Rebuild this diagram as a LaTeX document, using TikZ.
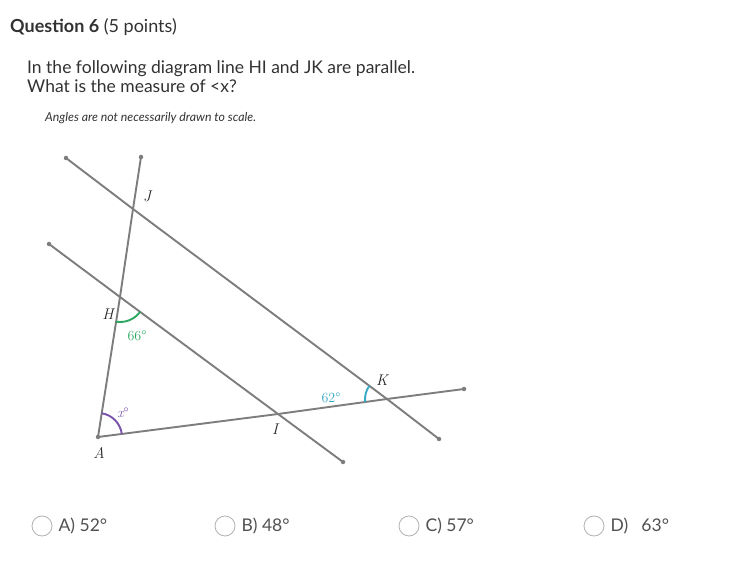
\documentclass[tikz,border=0pt]{standalone}
\usepackage{fontspec}
\setmainfont{Lato}
\newfontfamily\geofont{Latin Modern Roman}
\usepackage{xcolor}
\usepackage{tikz}
\usetikzlibrary{angles, positioning}

\definecolor{linegray}{RGB}{125,125,125}
\definecolor{textgray}{RGB}{50,50,50}
\definecolor{anglegreen}{RGB}{46,168,96}
\definecolor{anglecyan}{RGB}{52,170,196}
\definecolor{anglepurple}{RGB}{122,82,170}

\tikzset{
  geoline/.style={draw=linegray, line width=1.9pt},
  enddot/.style={circle, fill=linegray, inner sep=0pt, minimum size=4.5pt},
  ptlabel/.style={font=\geofont\itshape\fontsize{15.5}{15.5}\selectfont, text=black!85},
  anglabel/.style={font=\geofont\fontsize{14}{14}\selectfont},
  choice/.style={circle, draw=black!30, line width=0.8pt, minimum size=20pt, inner sep=0pt},
  choicetext/.style={font=\fontsize{17.5}{17.5}\selectfont, text=textgray!85, inner sep=0pt}
}

\begin{document}
\begin{tikzpicture}[x=1pt,y=-1pt]
    \useasboundingbox (0,0) rectangle (729,561);

    % Intestazione
    \node[anchor=base west, inner sep=0pt, font=\fontsize{18}{18}\selectfont, text=textgray] (qtitle) at (10,33) {\textbf{Question 6} (5 points)};
    \node[anchor=base west, inner sep=0pt, font=\fontsize{17.5}{17.5}\selectfont, text=textgray] (qline1) at (27,74) {In the following diagram line HI and JK are parallel.};
    \node[anchor=base west, inner sep=0pt, font=\fontsize{17.5}{17.5}\selectfont, text=textgray] (qline2) at (27,93) {What is the measure of <x?};
    \node[anchor=base west, inner sep=0pt, font=\itshape\fontsize{12.3}{12.3}\selectfont, text=textgray] (qnote) at (45,122) {Angles are not necessarily drawn to scale.};

    % Punti della figura
    \coordinate (Ttop) at (141,157);
    \coordinate (Jend) at (66,158);
    \coordinate (Hend) at (49,244);
    \coordinate (J) at (133,209);
    \coordinate (H) at (120,297);
    \coordinate (A) at (98,437);
    \coordinate (I) at (278,414);
    \coordinate (K) at (387,399);
    \coordinate (Iend) at (343,462);
    \coordinate (Kend) at (439,439);
    \coordinate (Aend) at (464,389);

    % Rette
    \draw[geoline] (Ttop) -- (J) -- (H) -- (A);
    \draw[geoline] (Jend) -- (J) -- (K) -- (Kend);
    \draw[geoline] (Hend) -- (H) -- (I) -- (Iend);
    \draw[geoline] (A) -- (I) -- (K) -- (Aend);

    % Estremi
    \foreach \p in {Ttop, Jend, Hend, A, Iend, Kend, Aend}
        \node[enddot] at (\p) {};

    % Angoli
    \pic[draw=anglegreen, line width=1.9pt, angle radius=25pt] {angle=A--H--I};
    \pic[draw=anglepurple, line width=1.9pt, angle radius=24pt] {angle=K--A--H};
    \pic[draw=anglecyan, line width=1.9pt, angle radius=22pt] {angle=J--K--A};

    % Etichette
    \node[ptlabel] (lJ) at (147,196) {J};
    \node[ptlabel] (lH) at (108,314) {H};
    \node[ptlabel] (lA) at (99,453) {A};
    \node[ptlabel] (lI) at (275,429) {I};
    \node[ptlabel] (lK) at (382,380) {K};
    \node[anglabel, text=anglegreen] (l66) at (137,336) {66°};
    \node[anglabel, text=anglecyan] (l62) at (331,398) {62°};
    \node[anglabel, text=anglepurple] (lx) at (123,413) {\itshape x\upshape°};

    % Risposte
    \node[choice] (ca) at (42,526) {};
    \node[choice] (cb) at (225,526) {};
    \node[choice] (cc) at (409,526) {};
    \node[choice] (cd) at (594,526) {};
    \node[choicetext, right=6pt of ca] (ta) {A) 52°};
    \node[choicetext, right=6pt of cb] (tb) {B) 48°};
    \node[choicetext, right=6pt of cc] (tc) {C) 57°};
    \node[choicetext, right=6pt of cd] (td) {D)\enspace\ 63°};
\end{tikzpicture}
\end{document}
